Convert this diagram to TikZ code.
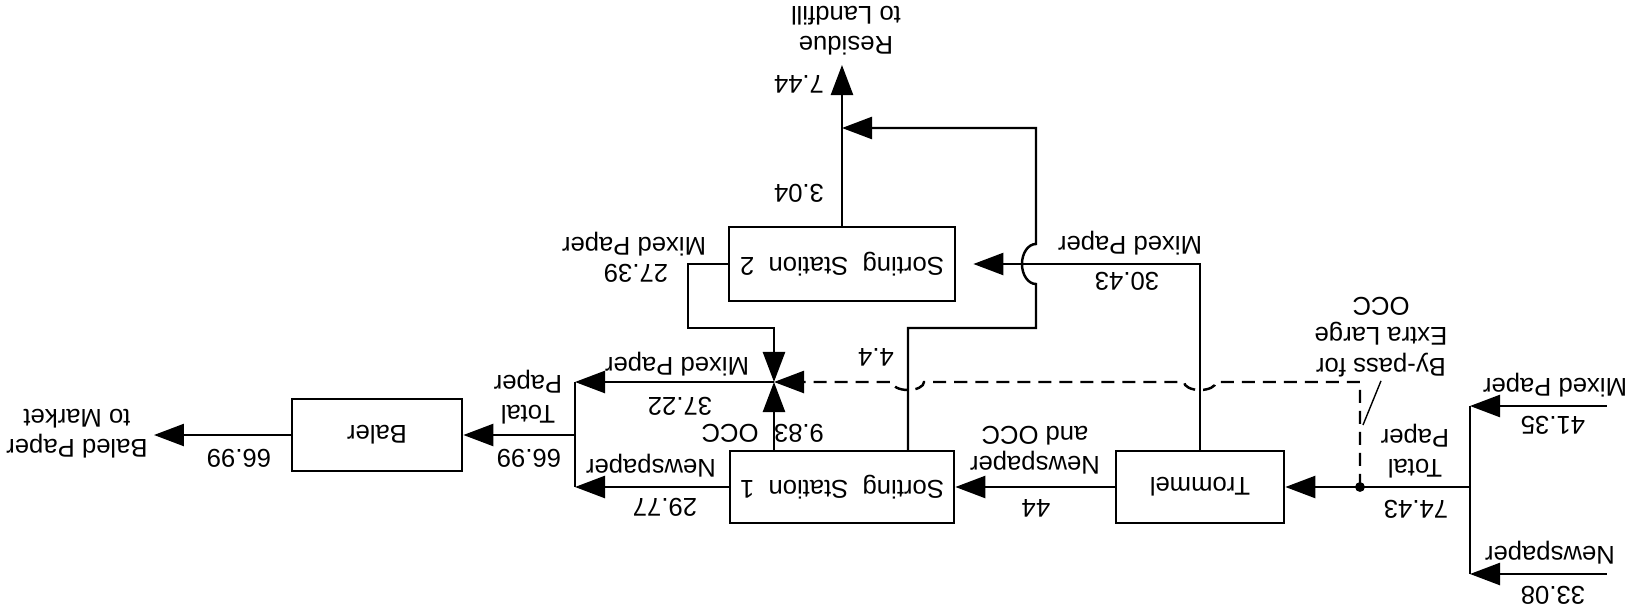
\documentclass[tikz,border=0pt]{standalone}
\usepackage{fontspec}
\setmainfont{Liberation Sans}
\usetikzlibrary{arrows.meta}

\begin{document}
\begin{tikzpicture}[x=0.01cm, y=0.01cm, rotate=180, transform shape,
    font=\fontsize{7.3}{8.6}\selectfont,
    unit/.style={draw, line width=0.75pt, inner sep=0pt},
    pipe/.style={line width=0.7pt},
    flow/.style={pipe, -{Triangle[length=3mm,width=2.2mm]}},
    lbl/.style={inner sep=1pt, align=center}]
    \useasboundingbox (0,0) rectangle (1627,615);
        % units
            \node[unit, minimum width=1.68cm, minimum height=0.72cm] (trommel) at (427,487) {Trommel};
            \node[unit, minimum width=2.24cm, minimum height=0.72cm] (ss1) at (785,487) {Sorting\ \ Station\ \ 1};
            \node[unit, minimum width=2.26cm, minimum height=0.74cm] (ss2) at (785,264) {Sorting\ \ Station\ \ 2};
            \node[unit, minimum width=1.70cm, minimum height=0.72cm] (baler) at (1250,435) {Baler};
        % points
            \coordinate (mixin) at (20,406);
            \coordinate (newsin) at (20,574);
            \coordinate (feedtop) at (157,406);
            \coordinate (feedbot) at (157,574);
            \coordinate (feed) at (157,487);
            \coordinate (split) at (267,487);
            \coordinate (jct) at (853,382);
            \coordinate (totaltop) at (1052,382);
            \coordinate (totalbot) at (1052,487);
            \coordinate (total) at (1052,435);
            \coordinate (market) at (1473,435);
            \coordinate (merge) at (785,128);
            \coordinate (landfill) at (785,65);
        % feed
            \draw[flow] (mixin) -- (feedtop);
            \draw[flow] (newsin) -- (feedbot);
            \draw[pipe] (feedtop) -- (feedbot);
            \draw[flow] (feed) -- (trommel.west);
            \fill (split) circle[radius=1.4pt];
            \draw[flow] (trommel.east) -- (ss1.west);
        % trommel mixed paper to station 2
            \draw[flow, shorten >=1.7mm] (trommel.south) -- (427,264) -- (ss2.west);
        % station 1 residue, with hop
            \draw[flow] (719,451) -- (719,328) -- (591,328) -- (591,284)
                arc[start angle=90, end angle=-90, x radius=0.14cm, y radius=0.2cm]
                -- (591,128) -- (merge);
            \draw[flow] (ss2.south) -- (landfill);
        % mixed paper from station 2
            \draw[flow] (ss2.east) -- (939,264) -- (939,328) -- (853,328) -- (jct);
            \draw[flow] (ss1.south -| jct) -- (jct);
            \draw[flow, dashed, dash pattern=on 1.3mm off 0.8mm] (split) -- (267,382) -- (411,382)
                arc[start angle=180, end angle=0, x radius=0.16cm, y radius=0.08cm]
                -- (703,382)
                arc[start angle=180, end angle=0, x radius=0.16cm, y radius=0.08cm]
                -- (jct);
        % total paper to baler
            \draw[flow] (jct) -- (totaltop);
            \draw[flow] (ss1.east) -- (totalbot);
            \draw[pipe] (totaltop) -- (totalbot);
            \draw[flow] (total) -- (baler.west);
            \draw[flow] (baler.east) -- (market);
        % labels
            \node[lbl] (lmixin) at (72,385) {Mixed Paper};
            \node[lbl] (vmixin) at (74,425) {41.35};
            \node[lbl] (lnewsin) at (77,553) {Newspaper};
            \node[lbl] (vnewsin) at (74,595) {33.08};
            \node[lbl] (lfeed) at (212,451) {Total\\Paper};
            \node[lbl] (vfeed) at (211,509) {74.43};
            \node[lbl] (lbypass) at (246,337) {By-pass for\\Extra Large\\OCC};
            \draw[line width=0.4pt] (lbypass.north) -- (264,425);
            \node[lbl] (ltrom) at (592,450) {Newspaper\\and OCC};
            \node[lbl] (vtrom) at (591,508) {44};
            \node[lbl] (ltmix) at (497,243) {Mixed Paper};
            \node[lbl] (vtmix) at (500,281) {30.43};
            \node[lbl] (vres1) at (751,357) {4.4};
            \node[lbl] (vres2) at (828,193) {3.04};
            \node[lbl] (vres) at (828,84) {7.44};
            \node[lbl] (lres) at (781,31) {Residue\\to Landfill};
            \node[lbl] (ls2mix) at (993,244) {Mixed Paper};
            \node[lbl] (vs2mix) at (991,273) {27.39};
            \node[lbl] (ljmix) at (950,364) {Mixed Paper};
            \node[lbl] (vjmix) at (947,406) {37.22};
            \node[lbl] (locc) at (897,433) {OCC};
            \node[lbl] (vocc) at (828,433) {9.83};
            \node[lbl] (lnews) at (976,466) {Newspaper};
            \node[lbl] (vnews) at (962,507) {29.77};
            \node[lbl] (ltotal) at (1099,397) {Total\\Paper};
            \node[lbl] (vtotal) at (1098,458) {66.99};
            \node[lbl] (vbaled) at (1388,458) {66.99};
            \node[lbl] (lbaled) at (1550,434) {Baled Paper\\to Market};
\end{tikzpicture}
\end{document}
